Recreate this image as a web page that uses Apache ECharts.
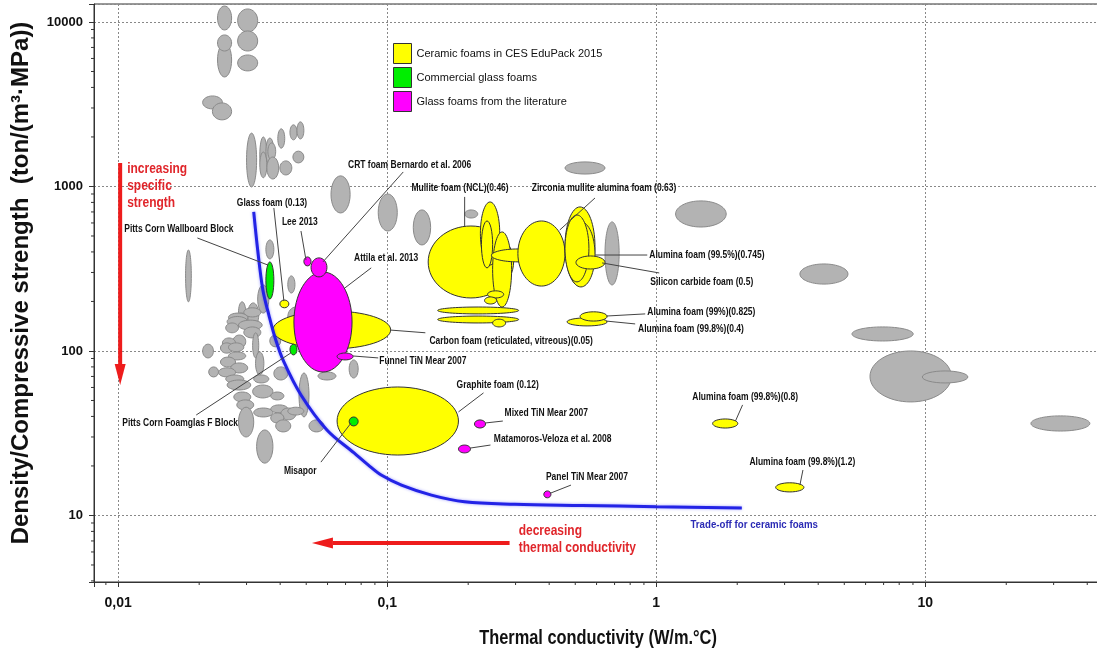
<!DOCTYPE html>
<html><head><meta charset="utf-8">
<script src="https://cdn.jsdelivr.net/npm/echarts@6/dist/echarts.min.js"></script>
<style>html,body{margin:0;padding:0;background:#fff}#c{width:1097px;height:657px}</style>
</head><body><div id="c"></div>
<script>
const FONT = '"Liberation Sans",Arial,sans-serif';

// ---- axes ----
const xTickValues = [0.01, 0.1, 1, 10];
const xTickLabels = ['0,01', '0,1', '1', '10'];
const yTickValues = [10, 100, 1000, 10000];
const yTickLabels = ['10', '100', '1000', '10000'];
const xRange = [0.00813, 45];
const yRange = [3.94, 12860];
const xTitle = 'Thermal conductivity (W/m.°C)';
const yTitle = 'Density/Compressive strength  (ton/(m\u00b3\u00b7MPa))';

// ---- ellipses: [k min, k max, ratio min, ratio max] ----
const cesGrayFoams = [
  [0.0234, 0.0264, 8940, 12500], [0.0278, 0.0330, 8690, 12000], [0.0234, 0.0264, 4630, 7450],
  [0.0234, 0.0264, 6660, 8340], [0.0278, 0.0330, 6660, 8820], [0.0278, 0.0330, 5040, 6300],
  [0.0206, 0.0244, 2960, 3550], [0.0224, 0.0264, 2540, 3220], [0.0300, 0.0327, 993, 2110],
  [0.0336, 0.0357, 1210, 2000], [0.0336, 0.0357, 1130, 1620], [0.0354, 0.0379, 1350, 1970],
  [0.0360, 0.0385, 1450, 1840], [0.0357, 0.0395, 1110, 1510], [0.0399, 0.0442, 1175, 1430],
  [0.0392, 0.0416, 1710, 2240], [0.0435, 0.0462, 1920, 2370], [0.0462, 0.0490, 1945, 2470],
  [0.0446, 0.0490, 1390, 1640], [0.0618, 0.0728, 690, 1160], [0.0926, 0.109, 536, 900],
  [0.125, 0.145, 441, 720], [0.0178, 0.0187, 199, 411], [0.0354, 0.0379, 363, 473],
  [0.0427, 0.0454, 225, 286], [0.0206, 0.0226, 90.7, 110], [0.0722, 0.0780, 68.5, 88.2],
  [0.0553, 0.0645, 66.6, 74.5], [0.0470, 0.0512, 39.7, 73.5], [0.0512, 0.0582, 32.2, 38.1],
  [0.0327, 0.0376, 20.8, 33.1], [0.458, 0.645, 1190, 1410], [0.194, 0.217, 643, 720],
  [0.645, 0.728, 252, 609], [1.18, 1.82, 567, 817], [3.42, 5.16, 255, 338],
  [5.34, 9.02, 115, 140], [6.23, 12.5, 49, 100], [9.75, 14.4, 63.9, 75.6], [24.7, 40.9, 32.6, 40.3],
  [0.0330, 0.0363, 170, 252], [0.0427, 0.0490, 140, 185], [0.0280, 0.0298, 148, 199],
  [0.0303, 0.0333, 140, 196], [0.0273, 0.0303, 148, 170], [0.0293, 0.0339, 161, 183],
  [0.0257, 0.0303, 150, 170], [0.0254, 0.0303, 140, 162], [0.0280, 0.0343, 134, 154],
  [0.0251, 0.0280, 129, 148], [0.0293, 0.0339, 120, 140], [0.0366, 0.0402, 106, 125],
  [0.0316, 0.0333, 90.7, 129], [0.0267, 0.0298, 104, 125], [0.0244, 0.0273, 104, 120],
  [0.0240, 0.0267, 97, 112], [0.0257, 0.0293, 99, 112], [0.0257, 0.0298, 88.2, 98.6],
  [0.0240, 0.0273, 80, 91.8], [0.0324, 0.0348, 71.5, 98.6], [0.0262, 0.0303, 73.5, 84.6],
  [0.0217, 0.0236, 69.5, 80], [0.0236, 0.0273, 69.5, 79], [0.0379, 0.0427, 66.6, 80],
  [0.0251, 0.0293, 63.9, 71.5], [0.0319, 0.0363, 63.9, 71.5], [0.0254, 0.0311, 57.9, 66.6],
  [0.0316, 0.0376, 51.8, 62.1], [0.0369, 0.0413, 50.4, 56.3], [0.0269, 0.0311, 49, 56.3],
  [0.0276, 0.0319, 43.8, 50.4], [0.0280, 0.0319, 30.0, 45.5], [0.0319, 0.0376, 39.7, 45],
  [0.0369, 0.0427, 42, 47], [0.0402, 0.0458, 38.1, 45], [0.0427, 0.0490, 40.8, 45.5],
  [0.0369, 0.0413, 36.5, 42], [0.0385, 0.0438, 32.2, 38.1]
];
const ceramicFoams = [
  [0.142, 0.295, 210, 575], [0.222, 0.262, 333, 805], [0.224, 0.2465, 320, 617],
  [0.2465, 0.290, 185, 529], [0.244, 0.385, 348, 417], [0.236, 0.271, 210, 232],
  [0.230, 0.255, 193, 213], [0.154, 0.308, 168, 185], [0.154, 0.308, 148, 163],
  [0.2465, 0.2755, 140, 156], [0.306, 0.458, 248, 617], [0.458, 0.592, 248, 751],
  [0.465, 0.592, 245, 609], [0.458, 0.562, 263, 671], [0.503, 0.645, 315, 378],
  [0.466, 0.657, 142, 159], [0.521, 0.657, 152, 173], [1.62, 2.01, 34.0, 38.6],
  [2.78, 3.54, 13.9, 15.8], [0.0399, 0.0431, 183, 204], [0.0376, 0.103, 103, 175],
  [0.0651, 0.184, 23.3, 60.4]
];
const commercialGlassFoams = [
  [0.0354, 0.0379, 207, 348], [0.0435, 0.0462, 94.6, 110], [0.0722, 0.0780, 35.0, 39.7]
];
const literatureGlassFoams = [
  [0.0450, 0.0740, 74.5, 302], [0.0521, 0.0597, 282, 368], [0.0490, 0.0521, 329, 373],
  [0.0651, 0.0747, 88.2, 97.2], [0.211, 0.232, 34.0, 38.1], [0.184, 0.204, 24.0, 26.8],
  [0.382, 0.406, 12.8, 14.1]
];

// ---- trade-off line ----
const tradeOffK = [0.0319, 0.0330, 0.0345, 0.0363, 0.0385, 0.0413, 0.0478, 0.0597, 0.0753, 0.0849, 0.0950, 0.113, 0.146, 0.194, 0.298, 0.53, 1.0, 2.08];
const tradeOffR = [700, 411, 235, 166, 117, 85.7, 54.0, 33.1, 24.0, 20.3, 17.6, 15.3, 13.3, 12.1, 11.7, 11.5, 11.3, 11.1];

// ---- labelled annotations ----
const annotationText = [
  'CRT foam Bernardo et al. 2006', 'Mullite foam (NCL)(0.46)', 'Zirconia mullite alumina foam (0.63)',
  'Glass foam (0.13)', 'Lee 2013', 'Pitts Corn Wallboard Block', 'Attila et al. 2013',
  'Carbon foam (reticulated, vitreous)(0.05)', 'Funnel TiN Mear 2007', 'Pitts Corn Foamglas F Block',
  'Misapor', 'Graphite foam (0.12)', 'Mixed TiN Mear 2007', 'Matamoros-Veloza et al. 2008',
  'Panel TiN Mear 2007', 'Alumina foam (99.5%)(0.745)', 'Silicon carbide foam (0.5)',
  'Alumina foam (99%)(0.825)', 'Alumina foam (99.8%)(0.4)', 'Alumina foam (99.8%)(0.8)',
  'Alumina foam (99.8%)(1.2)'
];
const annotationAt = [
  [0.0715, 1351], [0.123, 979], [0.3445, 979], [0.0276, 794], [0.0406, 609], [0.01053, 551],
  [0.0753, 368], [0.1435, 115], [0.0934, 87.0], [0.01035, 36.5], [0.0413, 18.6], [0.181, 62.1],
  [0.273, 42.0], [0.249, 29.2], [0.389, 17.1], [0.942, 383], [0.950, 263], [0.926, 173],
  [0.856, 136], [1.362, 52.5], [2.22, 21.1]
];
const leaderFrom = [
  [0.1147, 1225], [0.194, 864], [0.592, 851], [0.0379, 740], [0.0478, 536], [0.0197, 486],
  [0.0872, 320], [0.1026, 134], [0.0747, 93.2], [0.0195, 40.8], [0.0567, 21.1], [0.228, 55.6],
  [0.269, 37.5], [0.242, 26.8], [0.482, 15.3], [0.592, 383], [1.026, 298], [0.651, 163],
  [0.651, 152], [2.094, 47.0], [3.51, 18.9]
];
const leaderTo = [
  [0.0577, 348], [0.194, 575], [0.438, 544], [0.0413, 201], [0.0499, 357], [0.0360, 333],
  [0.0697, 242], [0.1386, 129], [0.0926, 90.7], [0.0438, 97.2], [0.0734, 36.5], [0.184, 42.6],
  [0.232, 36.5], [0.204, 25.7], [0.406, 13.7], [0.926, 383], [0.629, 343], [0.910, 168],
  [0.835, 146], [1.97, 37.5], [3.42, 15.3]
];

// ---- notes & arrows ----
const noteText = ['increasing\nspecific\nstrength', 'decreasing\nthermal conductivity', 'Trade-off for ceramic foams'];
const noteAt = [[0.0108, 1449], [0.308, 9.13], [1.34, 9.6]];
const noteColor = ['#e0262b', '#e0262b', '#2b2bb5'];
const arrowTail = [[0.01017, 1390], [0.285, 6.80]];
const arrowTip = [[0.01017, 62.1], [0.0525, 6.80]];

// ---- minor ticks ----
const minorX = [], minorY = [];
[0.001, 0.01, 0.1, 1, 10].forEach(d => { for (let m = 2; m <= 9; m++) { const v = m * d; if (v > xRange[0] && v < xRange[1]) minorX.push([v, yRange[0], 0]); } });
[1, 10, 100, 1000, 10000].forEach(d => { for (let m = 2; m <= 9; m++) { const v = m * d; if (v > yRange[0] && v < yRange[1]) minorY.push([xRange[0], v, 1]); } });

function fmt(vals, labels) {
  return v => { for (let i = 0; i < vals.length; i++) if (Math.abs(Math.log10(v) - Math.log10(vals[i])) < 1e-6) return labels[i]; return ''; };
}

function ellipseSeries(name, data, fill, stroke) {
  return {
    type: 'custom', name, data, clip: true, encode: { x: [0, 1], y: [2, 3] },
    itemStyle: { color: fill, borderColor: '#333' },
    renderItem(params, api) {
      const a = api.coord([api.value(0), api.value(2)]);
      const b = api.coord([api.value(1), api.value(3)]);
      return {
        type: 'ellipse',
        shape: { cx: (a[0] + b[0]) / 2, cy: (a[1] + b[1]) / 2, rx: Math.abs(b[0] - a[0]) / 2, ry: Math.abs(b[1] - a[1]) / 2 },
        style: { fill, stroke, lineWidth: 1 }
      };
    }
  };
}

const chart = echarts.init(document.getElementById('c'));
chart.setOption({
  animation: false,
  backgroundColor: '#fff',
  grid: { left: 94, top: 4, right: -4, bottom: 75, outerBoundsMode: 'none', containLabel: false, show: true, borderColor: '#333', borderWidth: 1, backgroundColor: '#fff' },
  legend: {
    left: 393, top: 43, padding: 0, orient: 'vertical', icon: 'rect', itemWidth: 18, itemHeight: 20, itemGap: 3,
    data: ['Ceramic foams in CES EduPack 2015', 'Commercial glass foams', 'Glass foams from the literature'],
    itemStyle: { borderColor: '#333', borderWidth: 1 },
    textStyle: { fontFamily: FONT, fontSize: 11, color: '#111' },
    selectedMode: false
  },
  graphic: [
    { type: 'text', x: 598, y: 638, scaleX: 0.78, style: { text: xTitle, font: 'bold 21px ' + FONT, fill: '#111', align: 'center', verticalAlign: 'middle' } },
    { type: 'text', x: 21, y: 283, rotation: Math.PI / 2, style: { text: yTitle, font: 'bold 24px ' + FONT, fill: '#111', align: 'center', verticalAlign: 'middle' } }
  ],
  xAxis: {
    type: 'log', logBase: 10, min: xRange[0], max: xRange[1],
    axisLine: { show: true, lineStyle: { color: '#333', width: 1 } },
    axisTick: { show: true, length: 5, lineStyle: { color: '#333' } },
    axisLabel: { formatter: fmt(xTickValues, xTickLabels), fontFamily: FONT, fontSize: 14, fontWeight: 'bold', color: '#111', margin: 14 },
    splitLine: { show: true, lineStyle: { color: '#888', width: 1, type: [2, 2] } }
  },
  yAxis: {
    type: 'log', logBase: 10, min: yRange[0], max: yRange[1],
    axisLine: { show: true, lineStyle: { color: '#333', width: 1 } },
    axisTick: { show: true, length: 5, lineStyle: { color: '#333' } },
    axisLabel: { formatter: fmt(yTickValues, yTickLabels), fontFamily: FONT, fontSize: 13, fontWeight: 'bold', color: '#111', margin: 11 },
    splitLine: { show: true, lineStyle: { color: '#888', width: 1, type: [2, 2] } }
  },
  series: [
    ellipseSeries('CES grey', cesGrayFoams, '#b3b3b3', '#8a8a8a'),
    ellipseSeries('Ceramic foams in CES EduPack 2015', ceramicFoams, '#ffff00', '#333'),
    ellipseSeries('Commercial glass foams', commercialGlassFoams, '#00ee00', '#333'),
    ellipseSeries('Glass foams from the literature', literatureGlassFoams, '#ff00ff', '#333'),
    {
      type: 'line', name: 'Trade-off', data: tradeOffK.map((k, i) => [k, tradeOffR[i]]),
      showSymbol: false, smooth: 0.35, z: 5,
      lineStyle: { color: '#2323e6', width: 3, shadowColor: 'rgba(40,40,255,0.45)', shadowBlur: 3 }
    },
    {
      type: 'custom', name: 'labels', z: 6, clip: false,
      data: annotationAt.map(p => [p[0], p[1]]),
      renderItem(params, api) {
        const i = params.dataIndex;
        const t = api.coord(annotationAt[i]);
        const f = api.coord(leaderFrom[i]);
        const e = api.coord(leaderTo[i]);
        return {
          type: 'group', children: [
            { type: 'line', shape: { x1: f[0], y1: f[1], x2: e[0], y2: e[1] }, style: { stroke: '#444', lineWidth: 1 } },
            { type: 'text', x: t[0], y: t[1], scaleX: 0.85, style: { text: annotationText[i], x: 0, y: 0, align: 'left', verticalAlign: 'middle', fill: '#111', font: 'bold 10px ' + FONT } }
          ]
        };
      }
    },
    {
      type: 'custom', name: 'notes', z: 6, clip: false,
      data: noteAt.map(p => [p[0], p[1]]),
      renderItem(params, api) {
        const i = params.dataIndex;
        const t = api.coord(noteAt[i]);
        const big = i < 2;
        return { type: 'text', x: t[0], y: t[1], scaleX: big ? 0.8 : 0.88, style: { text: noteText[i], x: 0, y: 0, align: 'left', verticalAlign: 'top', fill: noteColor[i], lineHeight: big ? 17 : 14, font: (big ? 'bold 15px ' : 'bold 11px ') + FONT } };
      }
    },
    {
      type: 'custom', name: 'arrows', z: 6, clip: false,
      data: arrowTail.map(p => [p[0], p[1]]),
      renderItem(params, api) {
        const i = params.dataIndex;
        const a = api.coord(arrowTail[i]);
        const b = api.coord(arrowTip[i]);
        const dx = b[0] - a[0], dy = b[1] - a[1], L = Math.hypot(dx, dy);
        const ux = dx / L, uy = dy / L, px = -uy, py = ux;
        const hl = 21, hw = 5.5;
        const bx = b[0] - ux * hl, by = b[1] - uy * hl;
        return {
          type: 'group', children: [
            { type: 'line', shape: { x1: a[0], y1: a[1], x2: bx, y2: by }, style: { stroke: '#ee1c1c', lineWidth: 4 } },
            { type: 'polygon', shape: { points: [[b[0], b[1]], [bx + px * hw, by + py * hw], [bx - px * hw, by - py * hw]] }, style: { fill: '#ee1c1c' } }
          ]
        };
      }
    },
    {
      type: 'custom', name: 'minorTicks', z: 6, clip: false,
      data: minorX.concat(minorY),
      renderItem(params, api) {
        const p = api.coord([api.value(0), api.value(1)]);
        const isY = api.value(2) === 1;
        return { type: 'line', shape: isY ? { x1: p[0] - 3, y1: p[1], x2: p[0], y2: p[1] } : { x1: p[0], y1: p[1], x2: p[0], y2: p[1] + 3 }, style: { stroke: '#333', lineWidth: 1 } };
      }
    }
  ]
});
</script>
</body></html>
